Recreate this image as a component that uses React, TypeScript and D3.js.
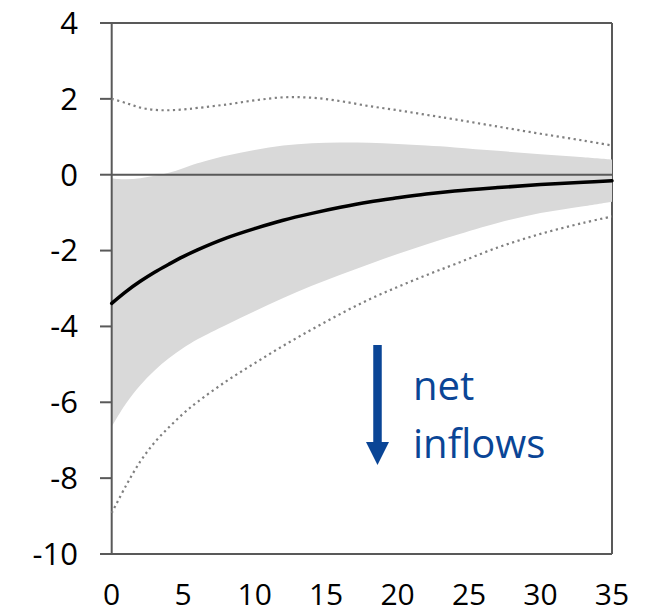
import React from "react";
import * as d3 from "d3";

// Horizon (periods after the shock)
const periods = [0, 1, 2, 3, 4, 5, 6, 8, 10, 12, 14, 16, 18, 20, 22, 24, 27, 30, 33, 35];

// Point estimate of the response
const response = [-3.39, -3.08, -2.81, -2.57, -2.36, -2.16, -1.98, -1.67, -1.42, -1.2, -1.02, -0.86, -0.72, -0.61, -0.51, -0.43, -0.34, -0.26, -0.2, -0.16];

// Inner confidence band (shaded)
const bandUpper = [-0.1, -0.12, -0.09, -0.03, 0.05, 0.17, 0.3, 0.5, 0.65, 0.77, 0.83, 0.85, 0.84, 0.81, 0.77, 0.72, 0.63, 0.54, 0.46, 0.4];
const bandLower = [-6.64, -6.03, -5.55, -5.16, -4.84, -4.57, -4.34, -3.96, -3.6, -3.25, -2.93, -2.64, -2.36, -2.09, -1.84, -1.6, -1.27, -1.01, -0.83, -0.71];

// Outer confidence bounds (dotted)
const outerUpper = [2.0, 1.89, 1.77, 1.71, 1.7, 1.72, 1.76, 1.85, 1.96, 2.04, 2.03, 1.94, 1.81, 1.7, 1.58, 1.46, 1.27, 1.08, 0.9, 0.77];
const outerLower = [-8.92, -8.2, -7.56, -7.06, -6.66, -6.3, -5.99, -5.45, -4.97, -4.51, -4.08, -3.67, -3.29, -2.96, -2.65, -2.36, -1.92, -1.56, -1.27, -1.1];

const yTicks = [4, 2, 0, -2, -4, -6, -8, -10];
const xTicks = [0, 5, 10, 15, 20, 25, 30, 35];

const W = 648;
const H = 614;
const left = 111.7;
const right = 612;
const top = 23;
const bottom = 554;

const axisColor = "#595959";
const font = "'Open Sans', 'Noto Sans', sans-serif";
const curve = d3.curveCatmullRom.alpha(0.5);

export default function App() {
  const x = d3.scaleLinear().domain([0, 35]).range([left, right]);
  const y = d3.scaleLinear().domain([-10, 4]).range([bottom, top]);

  const idx = periods.map((_, i) => i);

  const band = d3
    .area<number>()
    .x((i) => x(periods[i]))
    .y0((i) => y(bandLower[i]))
    .y1((i) => y(bandUpper[i]))
    .curve(curve)(idx) as string;

  const lineOf = (vals: number[]) =>
    d3
      .line<number>()
      .x((i) => x(periods[i]))
      .y((i) => y(vals[i]))
      .curve(curve)(idx) as string;

  const arrowX = 377.5;
  const arrowTop = 345;
  const arrowTip = 465;
  const headLen = 23;
  const headHalf = 11.5;

  return (
    <svg
      width={W}
      height={H}
      style={{ position: "absolute", left: 0, top: 0, background: "#fff" }}
    >
      {/* top and right frame of the plot area */}
      <line x1={100} x2={right} y1={y(4)} y2={y(4)} stroke={axisColor} strokeWidth={2} />
      <line x1={right} x2={right} y1={top} y2={bottom} stroke={axisColor} strokeWidth={2} />

      {/* shaded band */}
      <path d={band} fill="#d9d9d9" stroke="none" />

      {/* left axis with ticks, zero line and bottom axis */}
      <line x1={left} x2={left} y1={top} y2={bottom} stroke={axisColor} strokeWidth={2} />
      {yTicks.map((t) => (
        <line key={"tk" + t} x1={100} x2={left} y1={y(t)} y2={y(t)} stroke={axisColor} strokeWidth={2} />
      ))}
      <line x1={left} x2={right} y1={y(0)} y2={y(0)} stroke={axisColor} strokeWidth={2} />
      <line x1={100} x2={right} y1={y(-10)} y2={y(-10)} stroke={axisColor} strokeWidth={2} />

      {/* outer bounds */}
      <path d={lineOf(outerUpper)} fill="none" stroke="#808080" strokeWidth={2.2} strokeDasharray="2.2 3.5" />
      <path d={lineOf(outerLower)} fill="none" stroke="#808080" strokeWidth={2.2} strokeDasharray="2.2 3.5" />

      {/* point estimate */}
      <path d={lineOf(response)} fill="none" stroke="#000" strokeWidth={3.5} strokeLinecap="round" />

      {/* y tick labels */}
      {yTicks.map((t) => (
        <text
          key={"yl" + t}
          x={78}
          y={y(t)}
          dy="0.35em"
          textAnchor="end"
          fontFamily={font}
          fontSize={31}
          fill="#000"
        >
          {t}
        </text>
      ))}

      {/* x tick labels */}
      {xTicks.map((t) => (
        <text
          key={"xl" + t}
          x={x(t)}
          y={605}
          textAnchor="middle"
          fontFamily={font}
          fontSize={30}
          fill="#000"
        >
          {t}
        </text>
      ))}

      {/* direction annotation */}
      <line x1={arrowX} x2={arrowX} y1={arrowTop} y2={arrowTip - headLen + 2} stroke="#0a4596" strokeWidth={8.5} />
      <path
        d={`M${arrowX - headHalf},${arrowTip - headLen} L${arrowX + headHalf},${arrowTip - headLen} L${arrowX},${arrowTip} Z`}
        fill="#0a4596"
      />
      <text x={413} y={400} fontFamily={font} fontSize={40} fill="#0a4596">
        net
      </text>
      <text x={413} y={458} fontFamily={font} fontSize={40} fill="#0a4596">
        inflows
      </text>
    </svg>
  );
}
